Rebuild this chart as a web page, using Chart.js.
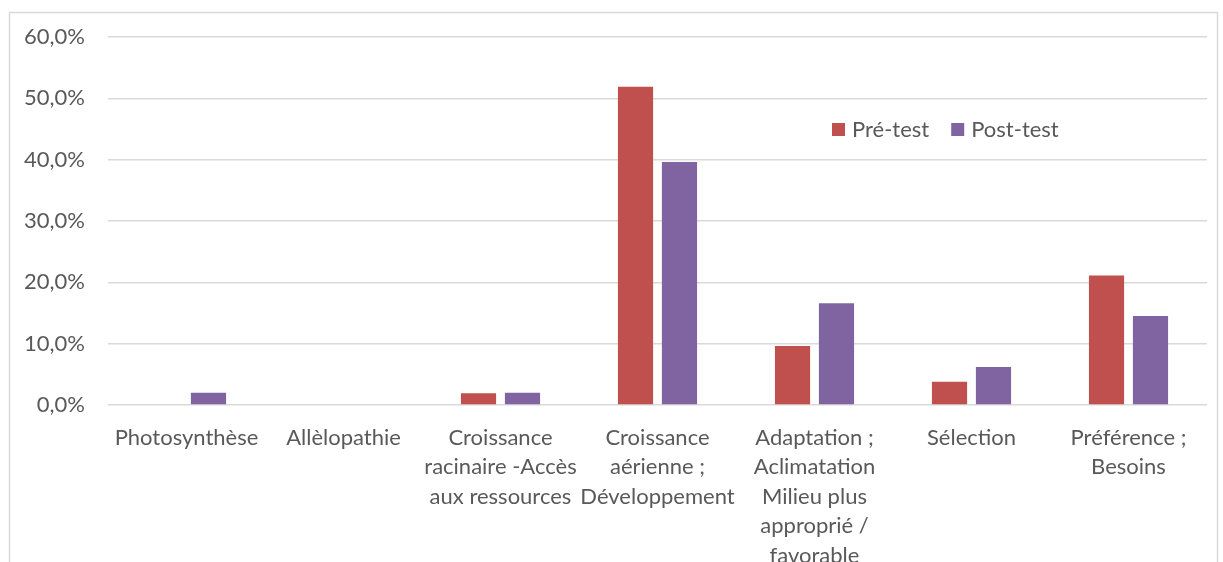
<!DOCTYPE html>
<html>
<head>
<meta charset="utf-8">
<script src="https://cdn.jsdelivr.net/npm/chart.js@4.4.1/dist/chart.umd.min.js"></script>
<style>
  html, body { margin: 0; padding: 0; background: #fff; }
  #wrap { width: 1223px; height: 562px; }
</style>
</head>
<body>
<div id="wrap"><canvas id="myChart" width="1223" height="562"></canvas></div>
<script>
const categories = [
  "Photosynthèse",
  "Allèlopathie",
  ["Croissance", "racinaire -Accès", "aux ressources"],
  ["Croissance", "aérienne ;", "Développement"],
  ["Adaptation ;", "Aclimatation", "Milieu plus", "approprié /", "favorable"],
  "Sélection",
  ["Préférence ;", "Besoins"]
];
const preTest = [0, 0, 1.9, 51.9, 9.6, 3.8, 21.1];
const postTest = [2.0, 0, 2.0, 39.6, 16.6, 6.2, 14.5];
const yTicks = [0, 10, 20, 30, 40, 50, 60];

const fontFamily = "Lato, 'Open Sans', sans-serif";
const textColor = "#595959";

// light frame around the whole chart
const chartFrame = {
  id: "chartFrame",
  beforeDraw(chart) {
    const ctx = chart.ctx;
    ctx.save();
    ctx.strokeStyle = "#d9d9d9";
    ctx.lineWidth = 1.5;
    ctx.strokeRect(9.5, 12.5, 1208, 600);
    ctx.restore();
  }
};

// legend drawn inside the plot, like the original
const innerLegend = {
  id: "innerLegend",
  afterDraw(chart) {
    const ctx = chart.ctx;
    ctx.save();
    ctx.font = "22px " + fontFamily;
    ctx.textBaseline = "middle";
    let x = 832;
    const y = 130;
    chart.data.datasets.forEach((ds) => {
      ctx.fillStyle = ds.backgroundColor;
      ctx.fillRect(x, y - 7, 13, 13);
      ctx.fillStyle = textColor;
      ctx.fillText(ds.label, x + 20, y);
      x += 20 + ctx.measureText(ds.label).width + 22;
    });
    ctx.restore();
  }
};

const data = {
  labels: categories,
  datasets: [
    {
      label: "Pré-test",
      backgroundColor: "#C0504D",
      data: preTest
    },
    {
      label: "Post-test",
      backgroundColor: "#8064A2",
      data: postTest
    }
  ]
};

const config = {
  type: "bar",
  data: data,
  options: {
    responsive: false,
    animation: false,
    layout: { padding: { top: 37, right: 16, left: 0, bottom: 0 } },
    datasets: {
      bar: { categoryPercentage: 0.56, barPercentage: 0.8 }
    },
    plugins: {
      legend: { display: false },
      tooltip: { enabled: false }
    },
    scales: {
      x: {
        grid: { display: false },
        border: { display: false },
        ticks: {
          color: textColor,
          font: { family: fontFamily, size: 22, lineHeight: 1.34 },
          autoSkip: false,
          maxRotation: 0,
          minRotation: 0,
          padding: 10
        },
        afterFit(scale) { scale.height = 157; }
      },
      y: {
        min: 0,
        max: 60,
        afterBuildTicks(scale) {
          scale.ticks = yTicks.map((v) => ({ value: v }));
        },
        grid: { color: "#d9d9d9", lineWidth: 1.5, drawTicks: false },
        border: { display: false },
        ticks: {
          color: textColor,
          font: { family: fontFamily, size: 22 },
          padding: 23,
          callback: (v) => v.toFixed(1).replace(".", ",") + "%"
        },
        afterFit(scale) { scale.width = 108; }
      }
    }
  },
  plugins: [chartFrame, innerLegend]
};

const myChart = new Chart(document.getElementById("myChart"), config);
</script>
</body>
</html>
